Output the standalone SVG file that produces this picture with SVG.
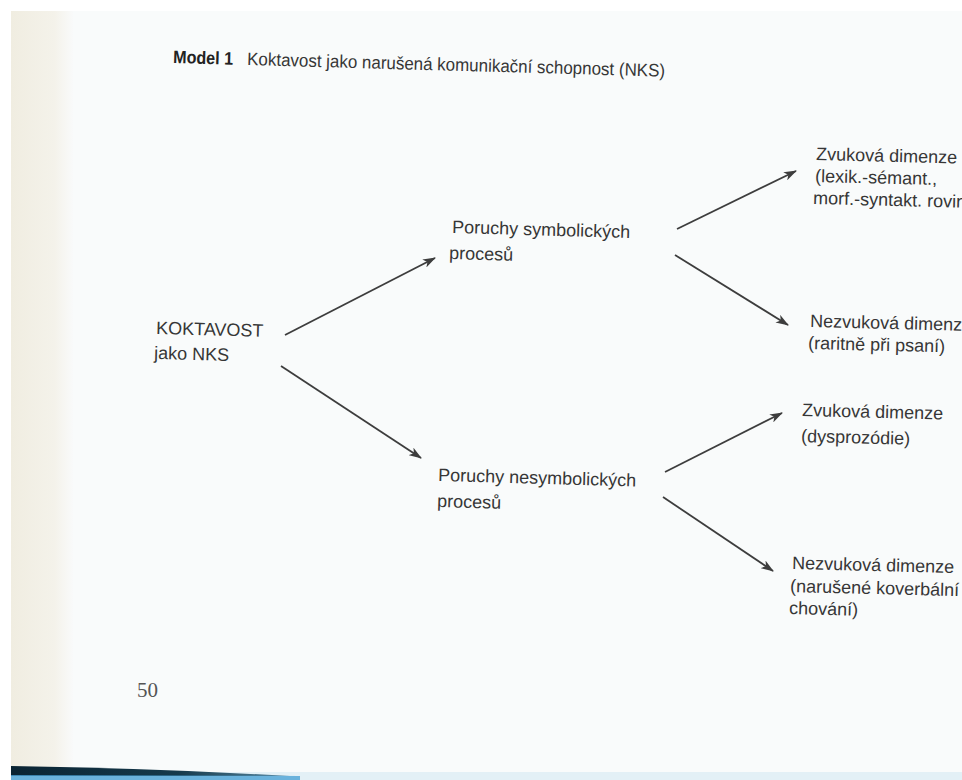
<svg xmlns="http://www.w3.org/2000/svg" width="962" height="780" viewBox="0 0 962 780">
<defs>
<style>
.t{font-family:"Liberation Sans",Arial,sans-serif;font-size:18px;fill:#363636}
.b{font-weight:bold;fill:#222}
.c{stroke:#3d3d3d;stroke-width:1.8;fill:none;marker-end:url(#ah)}
</style>
<marker id="ah" viewBox="0 0 13 9" refX="12" refY="4.5" markerWidth="13" markerHeight="9" markerUnits="userSpaceOnUse" orient="auto">
<path d="M0,0 L13,4.5 L0,9 L3.5,4.5 Z" fill="#3d3d3d"/>
</marker>
<linearGradient id="lg" x1="0" y1="0" x2="1" y2="0">
<stop offset="0" stop-color="#f0ede1"/>
<stop offset="0.7" stop-color="#f4f2ea"/>
<stop offset="1" stop-color="#f9fafa"/>
</linearGradient>
<linearGradient id="bg" x1="0" y1="0" x2="1" y2="0">
<stop offset="0" stop-color="#0a2433"/>
<stop offset="0.6" stop-color="#163a4c"/>
<stop offset="1" stop-color="#5a8aa3"/>
</linearGradient>
</defs>
<rect width="962" height="780" fill="#ffffff"/>
<rect x="11" y="11" width="951" height="769" fill="#f9fbfb"/>
<rect x="11" y="11" width="62" height="769" fill="url(#lg)"/>
<rect x="11" y="772" width="951" height="8" fill="#e3f0f6"/>
<path d="M11,766 Q150,768 290,776 L11,776 Z" fill="url(#bg)"/>
<path d="M11,775 L300,776 L300,780 L11,780 Z" fill="#4ba3d6" opacity="0.8"/>

<g id="title">
<text class="t b" x="173" y="63" font-size="17" textLength="60" lengthAdjust="spacingAndGlyphs" transform="rotate(1.6 173 63)">Model 1</text>
<text class="t" x="247" y="65" font-size="18" textLength="418" lengthAdjust="spacingAndGlyphs" transform="rotate(1.6 247 65)">Koktavost jako narušená komunikační schopnost (NKS)</text>
</g>

<g id="koktavost">
<text class="t" x="156" y="334" transform="rotate(1.5 156 334)">KOKTAVOST</text>
<text class="t" x="154" y="359" transform="rotate(1.5 154 359)">jako NKS</text>
</g>

<g id="symbolicke">
<text class="t" x="452" y="233" transform="rotate(1.6 452 233)">Poruchy symbolických</text>
<text class="t" x="449" y="259" transform="rotate(1.6 449 259)">procesů</text>
</g>

<g id="nesymbolicke">
<text class="t" x="438" y="481" transform="rotate(1.6 438 481)">Poruchy nesymbolických</text>
<text class="t" x="437" y="507" transform="rotate(1.6 437 507)">procesů</text>
</g>

<g id="zvukova1">
<text class="t" x="816" y="160" transform="rotate(1.4 816 160)">Zvuková dimenze</text>
<text class="t" x="815" y="182" transform="rotate(1.4 815 182)">(lexik.-sémant.,</text>
<text class="t" x="813" y="204" transform="rotate(1.4 813 204)">morf.-syntakt. rovin</text>
</g>

<g id="nezvukova1">
<text class="t" x="810" y="327" transform="rotate(1.4 810 327)">Nezvuková dimenze</text>
<text class="t" x="808" y="349" transform="rotate(1.4 808 349)">(raritně při psaní)</text>
</g>

<g id="zvukova2">
<text class="t" x="802" y="416" transform="rotate(1.4 802 416)">Zvuková dimenze</text>
<text class="t" x="801" y="442" transform="rotate(1.4 801 442)">(dysprozódie)</text>
</g>

<g id="nezvukova2">
<text class="t" x="792" y="569" transform="rotate(1.4 792 569)">Nezvuková dimenze</text>
<text class="t" x="790" y="592" transform="rotate(1.4 790 592)">(narušené koverbální</text>
<text class="t" x="789" y="614" transform="rotate(1.4 789 614)">chování)</text>
</g>

<g id="page-number">
<text x="137" y="697" font-family="'Liberation Serif','Times New Roman',serif" font-size="21" fill="#555">50</text>
</g>

<g id="connectors">
<path class="c" d="M285,335 L435,258"/>
<path class="c" d="M281,366 L421,458"/>
<path class="c" d="M677,229 L796,171"/>
<path class="c" d="M675,255 L788,325"/>
<path class="c" d="M665,472 L782,413"/>
<path class="c" d="M663,497 L773,571"/>
</g>
</svg>
